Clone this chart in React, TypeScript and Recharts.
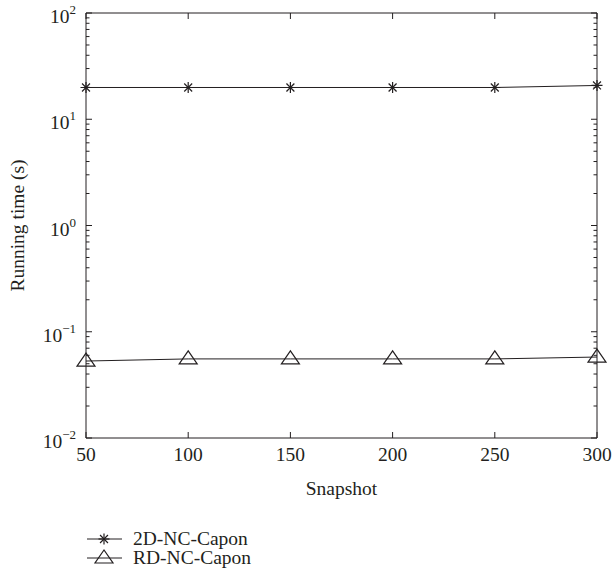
import { LineChart, Line, XAxis, YAxis, Legend } from 'recharts'

const snapshots = [50, 100, 150, 200, 250, 300]
const nc2dCapon = [19.9, 19.9, 19.9, 19.9, 19.9, 20.8]
const rdNcCapon = [0.053, 0.0555, 0.0555, 0.0555, 0.0555, 0.0578]
const xTicks = [50, 100, 150, 200, 250, 300]
const decades = [0.01, 0.1, 1, 10, 100]

const INK = '#231f20'
const FONT = '"Liberation Serif", "DejaVu Serif", serif'
const W = 613
const H = 575
const LEFT = 86
const RIGHT = 597
const TOP = 13
const BOTTOM = 438

const data = snapshots.map((s, i) => ({ snap: s, d2: nc2dCapon[i], rd: rdNcCapon[i] }))

// major + minor ticks for the log axis
const yTicks: number[] = []
decades.forEach((d, i) => {
  yTicks.push(d)
  if (i < decades.length - 1) for (let k = 2; k <= 9; k++) yTicks.push(+(d * k).toPrecision(3))
})

const isMajor = (v: number) => decades.some((d) => Math.abs(d - v) < d * 1e-6)

const txt = { fontFamily: FONT, fontSize: 19.5, fill: INK }

const Star = ({ cx, cy }: any) => {
  if (cx == null || cy == null) return null
  const r = 5.5
  const d = r * 0.72
  return (
    <g stroke={INK} strokeWidth={1.2}>
      <line x1={cx - r} y1={cy} x2={cx + r} y2={cy} />
      <line x1={cx} y1={cy - r} x2={cx} y2={cy + r} />
      <line x1={cx - d} y1={cy - d} x2={cx + d} y2={cy + d} />
      <line x1={cx - d} y1={cy + d} x2={cx + d} y2={cy - d} />
    </g>
  )
}

const Triangle = ({ cx, cy }: any) => {
  if (cx == null || cy == null) return null
  return (
    <polygon
      points={`${cx},${cy - 8} ${cx - 9},${cy + 5} ${cx + 9},${cy + 5}`}
      fill="none"
      stroke={INK}
      strokeWidth={1.2}
    />
  )
}

const LeftTick = ({ y, payload }: any) => {
  const v = payload.value
  const major = isMajor(v)
  const exp = Math.round(Math.log10(v))
  return (
    <g>
      <line x1={LEFT} y1={y} x2={LEFT + (major ? 6 : 3.5)} y2={y} stroke={INK} />
      {major && (
        <text x={76} y={y + 10} textAnchor="end" style={txt}>
          <tspan>10</tspan>
          <tspan dy={-9} style={{ fontSize: 13 }}>{exp < 0 ? '\u2212' + Math.abs(exp) : exp}</tspan>
        </text>
      )}
    </g>
  )
}

const RightTick = ({ y, payload }: any) => {
  const major = isMajor(payload.value)
  return <line x1={RIGHT} y1={y} x2={RIGHT - (major ? 6 : 3.5)} y2={y} stroke={INK} />
}

const BottomTick = ({ x, payload }: any) => (
  <g>
    <line x1={x} y1={BOTTOM} x2={x} y2={BOTTOM - 6} stroke={INK} />
    <text x={x} y={461} textAnchor="middle" style={txt}>
      {payload.value}
    </text>
  </g>
)

const TopTick = ({ x }: any) => <line x1={x} y1={TOP} x2={x} y2={TOP + 6} stroke={INK} />

const XLabel = () => (
  <text x={(LEFT + RIGHT) / 2} y={495} textAnchor="middle" style={txt}>
    Snapshot
  </text>
)

const YLabel = () => (
  <text x={24} y={(TOP + BOTTOM) / 2} transform={`rotate(-90 24 ${(TOP + BOTTOM) / 2})`} textAnchor="middle" style={txt}>
    Running time (s)
  </text>
)

const LegendBox = () => {
  const rows = [
    { name: '2D-NC-Capon', Marker: Star, y: 24 },
    { name: 'RD-NC-Capon', Marker: Triangle, y: 43 },
  ]
  return (
    <svg width={300} height={60} style={{ display: 'block' }}>
      {rows.map(({ name, Marker, y }) => (
        <g key={name}>
          <line x1={87} y1={y} x2={122} y2={y} stroke={INK} />
          <Marker cx={104} cy={y} />
          <text x={133} y={y + 6} style={txt}>
            {name}
          </text>
        </g>
      ))}
    </svg>
  )
}

export default function App() {
  return (
    <div style={{ position: 'absolute', left: 0, top: 0, width: W, height: H, background: '#fff', fontFamily: FONT }}>
      <LineChart width={W} height={H} data={data} margin={{ top: 0, right: 0, bottom: 0, left: 0 }}>
        <XAxis
          dataKey="snap"
          type="number"
          domain={[50, 300]}
          ticks={xTicks}
          height={77}
          axisLine={{ stroke: INK }}
          tickLine={false}
          tick={<BottomTick />}
          label={<XLabel />}
        />
        <XAxis
          xAxisId="top"
          orientation="top"
          dataKey="snap"
          type="number"
          domain={[50, 300]}
          ticks={xTicks}
          height={TOP}
          axisLine={{ stroke: INK }}
          tickLine={false}
          tick={<TopTick />}
        />
        <YAxis
          scale="log"
          type="number"
          domain={[0.01, 100]}
          allowDataOverflow
          ticks={yTicks}
          interval={0}
          width={LEFT}
          axisLine={{ stroke: INK }}
          tickLine={false}
          tick={<LeftTick />}
          label={<YLabel />}
        />
        <YAxis
          yAxisId="right"
          orientation="right"
          scale="log"
          type="number"
          domain={[0.01, 100]}
          allowDataOverflow
          ticks={yTicks}
          interval={0}
          width={W - RIGHT}
          axisLine={{ stroke: INK }}
          tickLine={false}
          tick={<RightTick />}
        />
        <Legend verticalAlign="bottom" align="left" content={<LegendBox />} wrapperStyle={{ left: 0, width: 300, height: 60 }} />
        <Line
          dataKey="d2"
          name="2D-NC-Capon"
          stroke={INK}
          strokeWidth={1}
          dot={<Star />}
          activeDot={false}
          isAnimationActive={false}
        />
        <Line
          dataKey="rd"
          name="RD-NC-Capon"
          stroke={INK}
          strokeWidth={1}
          dot={<Triangle />}
          activeDot={false}
          isAnimationActive={false}
        />
      </LineChart>
    </div>
  )
}
